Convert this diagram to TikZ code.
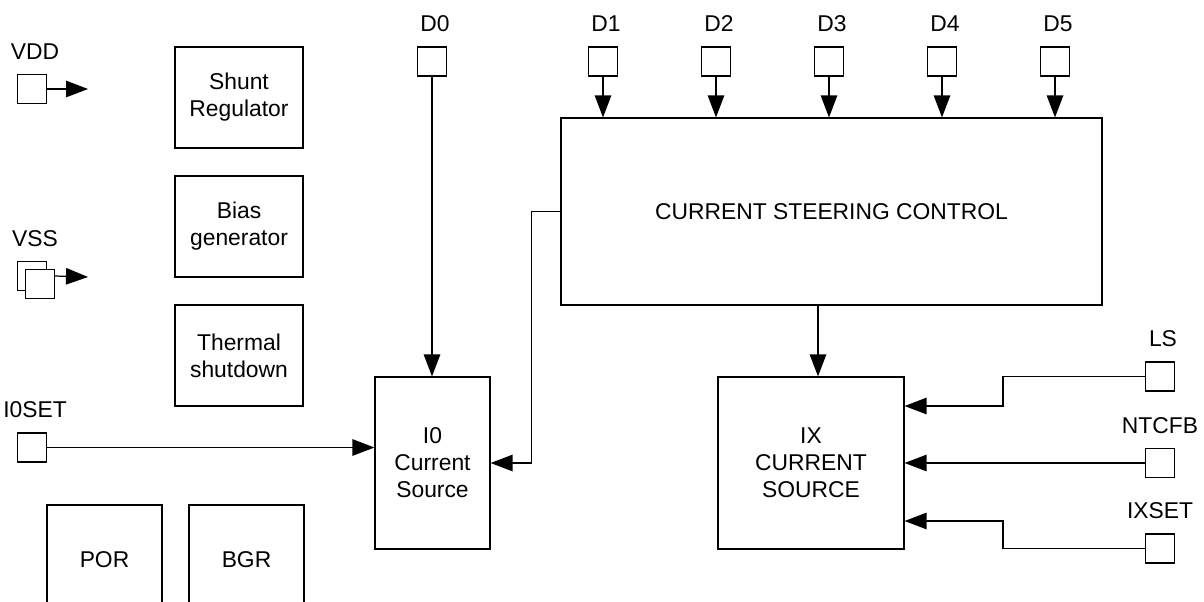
\documentclass[tikz,border=0pt]{standalone}
\usepackage{fontspec}
\setmainfont{Liberation Sans}
\usetikzlibrary{arrows.meta,positioning}

\begin{document}
\begin{tikzpicture}[x=0.02cm, y=-0.02cm, line width=0.7pt, every node/.style={font=\fontsize{13}{15.4}\selectfont}, blk/.style={draw, rectangle, align=center, inner sep=0pt}, pad/.style={draw, rectangle, fill=white, minimum size=0.58cm, inner sep=0pt}, lbl/.style={inner sep=0pt}, sig/.style={-{Triangle[length=0.44cm, width=0.33cm]}}]
	\useasboundingbox (0,0) rectangle (1204,602);
	\node[pad] (vdd) at (32,89) {};
	\node[lbl, above=0.28cm of vdd, xshift=0.06cm] (vddlbl) {VDD};
	\coordinate (vddout) at (88,89);
	\draw[sig] (vdd.east) -- (vddout);
	\node[pad] (vssb) at (32,276) {};
	\node[pad] (vss) at (40,284) {};
	\node[lbl, above=0.28cm of vssb, xshift=0.06cm] (vsslbl) {VSS};
	\coordinate (vssout) at (88,277);
	\draw[sig] (vss.east |- vssb) -- (vssout);
	\node[blk, minimum width=2.56cm, minimum height=2.02cm] (shunt) at (239,97.5) {Shunt\\Regulator};
	\node[blk, minimum width=2.56cm, minimum height=2.02cm] (bias) at (239,226.5) {Bias\\generator};
	\node[blk, minimum width=2.56cm, minimum height=2.02cm] (therm) at (239,355.5) {Thermal\\shutdown};
	\node[blk, minimum width=2.3cm, minimum height=2.2cm] (por) at (104.5,560) {POR};
	\node[blk, minimum width=2.3cm, minimum height=2.2cm] (bgr) at (246.5,560) {BGR};
	\node[blk, minimum width=2.3cm, minimum height=3.44cm] (i0) at (432.5,463) {I0\\Current\\Source};
	\node[blk, minimum width=10.82cm, minimum height=3.74cm] (csc) at (831.5,211.5) {CURRENT STEERING CONTROL};
	\node[blk, minimum width=3.72cm, minimum height=3.44cm] (ix) at (811,463) {IX\\CURRENT\\SOURCE};
	\foreach \n/\x in {0/432, 1/603, 2/716, 3/829, 4/942, 5/1055} {
		\node[pad] (d\n) at (\x,61.5) {};
		\node[lbl, above=0.28cm of d\n, xshift=0.06cm] (dlbl\n) {D\n};
	}
	\draw[sig] (d0.south) -- (d0.south |- i0.north);
	\foreach \n in {1,...,5}
		\draw[sig] (d\n.south) -- (d\n.south |- csc.north);
	\draw[sig] (csc.west) -- ++(-29,0) |- (i0.east);
	\node[pad] (i0set) at (32,447.5) {};
	\node[lbl, above=0.28cm of i0set, xshift=0.06cm] (i0setlbl) {I0SET};
	\draw[sig] (i0set.east) -- (i0set -| i0.west);
	\coordinate (ixtop) at ([xshift=0.14cm]ix.north);
	\draw[sig] (ixtop |- csc.south) -- (ixtop);
	\node[pad] (ls) at (1160,376.5) {};
	\node[lbl, above=0.28cm of ls, xshift=0.06cm] (lslbl) {LS};
	\node[pad] (ntcfb) at (1160,463) {};
	\node[lbl, above=0.28cm of ntcfb] (ntcfblbl) {NTCFB};
	\node[pad] (ixset) at (1160,548.5) {};
	\node[lbl, above=0.28cm of ixset] (ixsetlbl) {IXSET};
	\draw[sig] (ls.west) -- ++(-142,0) |- ([yshift=1.14cm]ix.east);
	\draw[sig] (ntcfb.west) -- (ix.east);
	\draw[sig] (ixset.west) -- ++(-142,0) |- ([yshift=-1.16cm]ix.east);
\end{tikzpicture}
\end{document}
